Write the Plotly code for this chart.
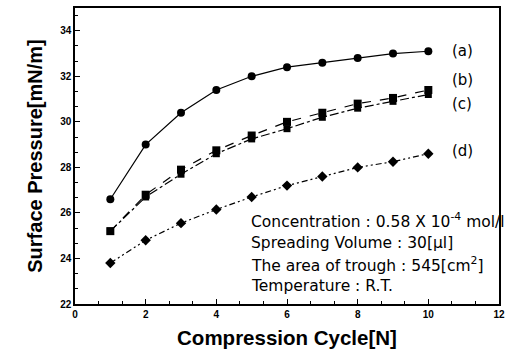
import plotly.graph_objects as go

cycles = [1, 2, 3, 4, 5, 6, 7, 8, 9, 10]
series_a = [26.6, 29.0, 30.4, 31.4, 32.0, 32.4, 32.6, 32.8, 33.0, 33.1]
series_b = [25.2, 26.8, 27.9, 28.75, 29.4, 30.0, 30.4, 30.8, 31.05, 31.4]
series_c = [25.2, 26.7, 27.7, 28.6, 29.25, 29.7, 30.2, 30.6, 30.9, 31.2]
series_d = [23.8, 24.8, 25.55, 26.15, 26.7, 27.2, 27.6, 28.0, 28.25, 28.6]
series_labels = ["(a)", "(b)", "(c)", "(d)"]
label_y = [33.1, 31.85, 30.8, 28.7]
info_lines = [
    "Concentration : 0.58 X 10<sup>-4</sup> mol/l",
    "Spreading Volume : 30[μl]",
    "The area of trough : 545[cm<sup>2</sup>]",
    "Temperature : R.T.",
]
info_y = [25.65, 24.7, 23.73, 22.8]

fig = go.Figure()
styles = [
    (series_a, "solid", "circle", 8),
    (series_b, "dash", "square", 8),
    (series_c, "dashdot", "square", 7),
    (series_d, "6px,3px,2px,3px,2px,3px", "diamond", 8),
]
for ys, dash, sym, sz in styles:
    fig.add_trace(go.Scatter(
        x=cycles, y=ys, mode="lines+markers",
        line=dict(color="black", width=1.2, dash=dash),
        marker=dict(symbol=sym, size=sz, color="black"),
        showlegend=False,
    ))

for lab, ly in zip(series_labels, label_y):
    fig.add_annotation(x=10.6, y=ly, text=lab, showarrow=False, xanchor="left",
                       font=dict(family="DejaVu Sans", size=15, color="black"))

for t, yv in zip(info_lines, info_y):
    fig.add_annotation(x=4.92, y=yv, text=t, showarrow=False, xanchor="left",
                       yanchor="middle",
                       font=dict(family="DejaVu Sans", size=15.5, color="black"))

axis_common = dict(
    showgrid=False, zeroline=False, showline=True, linecolor="black", linewidth=1.5,
    mirror=True, ticks="inside", ticklen=5, tickwidth=1.2, tickcolor="black",
    tickfont=dict(family="Liberation Sans, Arial", size=10, color="black", weight="bold"),
    minor=dict(ticks="inside", ticklen=3, tickcolor="black", tickwidth=1),
)
fig.update_xaxes(range=[0, 12], dtick=2, tick0=0, **axis_common,
                 title=dict(text="Compression Cycle[N]", standoff=12,
                            font=dict(family="Liberation Sans, Arial", size=20.5, color="black", weight="bold")))
fig.update_xaxes(minor_dtick=2/3)
fig.update_yaxes(range=[22, 35], dtick=2, tick0=22, **axis_common,
                 title=dict(text="Surface Pressure[mN/m]", standoff=12,
                            font=dict(family="Liberation Sans, Arial", size=20, color="black", weight="bold")))
fig.update_yaxes(minor_dtick=2/3)

fig.update_layout(
    width=511, height=359,
    margin=dict(l=75, r=6, t=7, b=55),
    paper_bgcolor="white", plot_bgcolor="white",
)
fig.write_html("out.html")
